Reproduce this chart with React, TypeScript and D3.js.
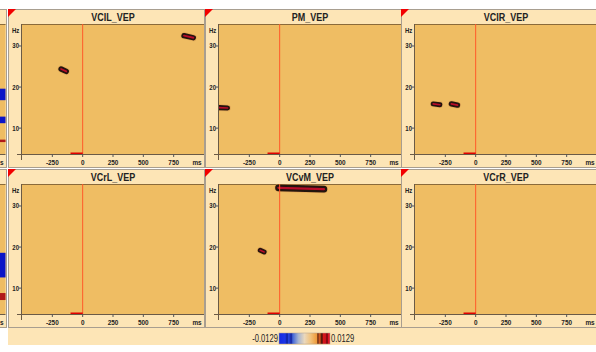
import React from "react";
import * as d3 from "d3";

const PANELS = ["VCIL_VEP", "PM_VEP", "VCIR_VEP", "VCrL_VEP", "VCvM_VEP", "VCrR_VEP"];
const X_TICKS = [-250, 0, 250, 500, 750];
const Y_TICKS = [10, 20, 30];
const T_DOMAIN = [-500, 1000];
const F_DOMAIN = [3.7, 35.35];
const BASELINE = [-100, 0];

// significant clusters: panel index, time range (ms), frequency at start/end (Hz), band (Hz)
const BLOB_PANEL = [0, 0, 1, 2, 2, 4, 4];
const BLOB_T0 = [-178, 835, -500, -350, -200, -10, -160];
const BLOB_T1 = [-135, 912, -430, -295, -150, 365, -128];
const BLOB_F0 = [24.4, 32.5, 15.0, 15.9, 15.9, 34.4, 19.2];
const BLOB_F1 = [23.8, 32.0, 14.9, 15.7, 15.6, 34.1, 18.8];
const BLOB_BW = [1.3, 1.3, 1.25, 1.2, 1.3, 1.6, 1.2];

// partially visible column at the left edge (frequency bands)
const EDGE_ROW = [0, 0, 0, 1, 1];
const EDGE_FLO = [16.8, 11.2, 6.6, 12.6, 7.1];
const EDGE_FHI = [19.6, 12.8, 7.2, 18.6, 8.8];
const EDGE_KIND = ["blue", "blue", "red", "blue", "red"];

const C_MIN = -0.0129;
const C_MAX = 0.0129;
const CBAR_STOPS = [
  [0, "#1428e0"], [0.12, "#1c36e8"], [0.16, "#0c1e9a"], [0.19, "#2a48e6"], [0.24, "#14249c"],
  [0.27, "#4466d8"], [0.38, "#a6b4d0"], [0.5, "#ead8bc"], [0.62, "#f2c27a"], [0.74, "#ee9a3a"],
  [0.76, "#6a2a10"], [0.8, "#e06020"], [0.84, "#3a0c08"], [0.87, "#d81818"], [0.92, "#c80f1e"],
  [0.94, "#5a0608"], [0.97, "#e01426"], [1, "#d8102a"],
] as [number, string][];

const FONT = "'Liberation Sans', Arial, sans-serif";
const CREAM = "#fde5b6";
const ORANGE = "#efbd63";

const COL_X = [8, 205, 401];
const ROW_Y = [9, 169];
const PW = 197;
const PH = 159;

function NText({ x, y, anchor = "start", size, bold = true, sx = 0.8, children }: any) {
  return (
    <g transform={`translate(${x},${y}) scale(${sx},1)`}>
      <text x={0} y={0} textAnchor={anchor} fontFamily={FONT} fontWeight={bold ? "bold" : "normal"} fontSize={size} fill="#222">
        {children}
      </text>
    </g>
  );
}

function Panel({ idx }: { idx: number }) {
  const col = idx % 3;
  const row = Math.floor(idx / 3);
  const x0 = COL_X[col];
  const y0 = ROW_Y[row];
  const left = x0 + 14;
  const right = x0 + 196;
  const top = y0 + 15;
  const bottom = y0 + 145;
  const xs = d3.scaleLinear().domain(T_DOMAIN).range([left, right]);
  const ys = d3.scaleLinear().domain(F_DOMAIN).range([bottom, top]);
  const clipId = `clip${idx}`;
  const blobs = BLOB_PANEL.map((p, i) => ({ p, i })).filter((b) => b.p === idx);
  const pxHz = Math.abs(ys(1) - ys(0));
  const line = d3.line<[number, number]>().x((d) => xs(d[0])).y((d) => ys(d[1]));
  return (
    <g>
      <rect x={x0 + 0.5} y={y0 + 0.5} width={PW - 1} height={PH - 1} fill={CREAM} stroke="#a89e90" strokeWidth={1} />
      <path d={`M${x0},${y0} L${x0 + 8},${y0} L${x0},${y0 + 8} Z`} fill="#f20000" />
      <NText x={(left + right) / 2} y={y0 + 12} anchor="middle" size={11.5} sx={0.78}>{PANELS[idx]}</NText>
      <defs>
        <clipPath id={clipId}>
          <rect x={left} y={top} width={right - left} height={bottom - top} />
        </clipPath>
      </defs>
      <rect x={left} y={top} width={right - left} height={bottom - top} fill={ORANGE} />
      <line x1={left} x2={right} y1={top + 0.5} y2={top + 0.5} stroke="#8a6a3a" strokeWidth={1} />
      <g clipPath={`url(#${clipId})`}>
        {blobs.map(({ i }) => {
          const pts: [number, number][] = [
            [BLOB_T0[i], BLOB_F0[i]],
            [BLOB_T1[i], BLOB_F1[i]],
          ];
          const w = BLOB_BW[i] * pxHz;
          return (
            <g key={i} filter="url(#soft)">
              <path d={line(pts) || ""} stroke="#d89a50" strokeWidth={w + 1.5} strokeLinecap="round" fill="none" opacity={0.6} />
              <path d={line(pts) || ""} stroke="#24120e" strokeWidth={w} strokeLinecap="round" fill="none" />
              <path d={line(pts) || ""} stroke="#b8102a" strokeWidth={w * 0.34} strokeLinecap="round" fill="none" />
            </g>
          );
        })}
      </g>
      <line x1={xs(0)} x2={xs(0)} y1={top} y2={bottom} stroke="#ff5a2a" strokeWidth={1} />
      <line x1={xs(BASELINE[0])} x2={xs(BASELINE[1])} y1={bottom - 0.5} y2={bottom - 0.5} stroke="#e00000" strokeWidth={2} />
      <line x1={x0 + 9} x2={right} y1={bottom + 0.5} y2={bottom + 0.5} stroke="#6a5a46" strokeWidth={1} />
      <line x1={left - 0.5} x2={left - 0.5} y1={top} y2={bottom + 6} stroke="#6a5a46" strokeWidth={1} />
      <NText x={left - 10} y={top + 9} size={7.5}>Hz</NText>
      {Y_TICKS.map((t) => (
        <g key={t}>
          <line x1={left - 3} x2={left} y1={ys(t)} y2={ys(t)} stroke="#555" strokeWidth={1} />
          <NText x={left - 3} y={ys(t) + 2.5} anchor="end" size={7.5}>{t}</NText>
        </g>
      ))}
      {X_TICKS.map((t) => (
        <g key={t}>
          <line x1={xs(t)} x2={xs(t)} y1={bottom} y2={bottom + 3} stroke="#555" strokeWidth={1} />
          <NText x={xs(t)} y={bottom + 11} anchor="middle" size={8}>{t}</NText>
        </g>
      ))}
      <NText x={right - 7} y={bottom + 11} anchor="middle" size={8}>ms</NText>
    </g>
  );
}

function EdgeColumn() {
  return (
    <g>
      {[0, 1].map((row) => {
        const y0 = ROW_Y[row];
        const top = y0 + 15;
        const bottom = y0 + 145;
        const ys = d3.scaleLinear().domain(F_DOMAIN).range([bottom, top]);
        return (
          <g key={row}>
            <rect x={-1} y={y0 + 0.5} width={7.5} height={PH - 1} fill={CREAM} stroke="#a89e90" />
            <rect x={0} y={top} width={5.5} height={bottom - top} fill={ORANGE} />
            <line x1={0} x2={5.5} y1={top + 0.5} y2={top + 0.5} stroke="#8a6a3a" />
            {EDGE_ROW.map((r, i) =>
              r === row ? (
                <rect key={i} x={0} y={ys(EDGE_FHI[i])} width={5.5} height={ys(EDGE_FLO[i]) - ys(EDGE_FHI[i])}
                  fill={EDGE_KIND[i] === "blue" ? "#0a14c8" : "#b01818"} />
              ) : null
            )}
            <line x1={0} x2={5.5} y1={bottom + 0.5} y2={bottom + 0.5} stroke="#6a5a46" />
            <NText x={0} y={bottom + 11} size={8}>s</NText>
          </g>
        );
      })}
    </g>
  );
}

export default function App() {
  const cbX = d3.scaleLinear().domain([C_MIN, C_MAX]).range([279, 330]);
  return (
    <svg width={596} height={352} style={{ position: "absolute", left: 0, top: 0, background: "#fff" }}>
      <defs>
        <filter id="soft" filterUnits="userSpaceOnUse" x={0} y={0} width={596} height={352}>
          <feGaussianBlur stdDeviation={0.45} />
        </filter>
        <linearGradient id="cbar" x1="0" x2="1" y1="0" y2="0">
          {CBAR_STOPS.map(([o, c], i) => (
            <stop key={i} offset={o} stopColor={c} />
          ))}
        </linearGradient>
      </defs>
      <rect x={0} y={0} width={596} height={352} fill="#fff" />
      <rect x={8} y={328} width={600} height={17} fill={CREAM} />
      <EdgeColumn />
      {PANELS.map((_, i) => (
        <Panel key={i} idx={i} />
      ))}
      <rect x={cbX(C_MIN)} y={333} width={cbX(C_MAX) - cbX(C_MIN)} height={11} fill="url(#cbar)" stroke="#b0a090" strokeWidth={0.5} />
      <NText x={cbX(C_MIN) - 1} y={342} anchor="end" size={10} bold={false} sx={0.76}>{C_MIN}</NText>
      <NText x={cbX(C_MAX) + 1} y={342} size={10} bold={false} sx={0.76}>{C_MAX}</NText>
    </svg>
  );
}
